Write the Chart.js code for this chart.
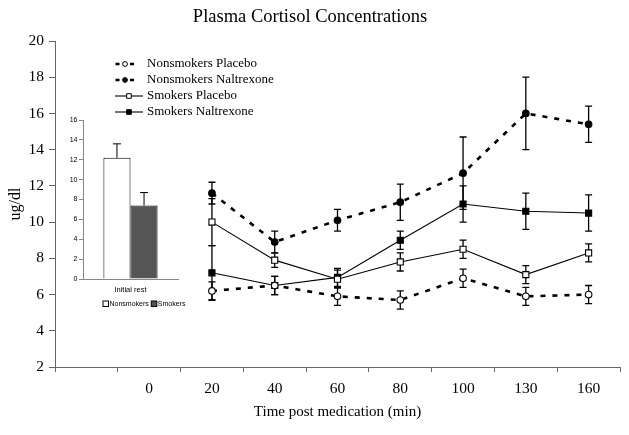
<!DOCTYPE html>
<html>
<head>
<meta charset="utf-8">
<script src="https://cdn.jsdelivr.net/npm/chart.js@4.4.1/dist/chart.umd.min.js"></script>
<style>
  html, body { margin: 0; padding: 0; background: #fff; }
  #wrap { position: relative; width: 629px; height: 435px; }
  #main { position: absolute; left: 0; top: 0; }
  #inset { position: absolute; left: 60px; top: 110px; }
</style>
</head>
<body>
<div id="wrap">
  <canvas id="main" width="629" height="435"></canvas>
  <canvas id="inset" width="130" height="205"></canvas>
</div>
<script>
"use strict";

// time points (first slot is an empty spacer, like in the original figure)
const timeLabels = ['', '0', '20', '40', '60', '80', '100', '130', '160'];

const nonsmokersPlacebo       = [null, null, 6.2, 6.5, 5.9, 5.7, 6.9, 5.9, 6.0];
const nonsmokersPlaceboErr    = [null, null, 0.5, 0.5, 0.5, 0.5, 0.5, 0.5, 0.5];
const nonsmokersNaltrexone    = [null, null, 11.6, 8.9, 10.1, 11.1, 12.7, 16.0, 15.4];
const nonsmokersNaltrexoneErr = [null, null, 0.6, 0.6, 0.6, 1.0, 2.0, 2.0, 1.0];
const smokersPlacebo          = [null, null, 10.0, 7.9, 6.85, 7.8, 8.5, 7.1, 8.3];
const smokersPlaceboErr       = [null, null, 1.3, 0.4, 0.5, 0.5, 0.5, 0.5, 0.5];
const smokersNaltrexone       = [null, null, 7.2, 6.5, 6.95, 9.0, 11.0, 10.6, 10.5];
const smokersNaltrexoneErr    = [null, null, 1.5, 0.5, 0.5, 0.5, 1.0, 1.0, 1.0];

// inset: initial rest
const restLabels = ['Initial rest'];
const restNonsmokers = [12.2];
const restNonsmokersErr = [1.4];
const restSmokers = [7.4];
const restSmokersErr = [1.3];

Chart.defaults.color = '#000';
Chart.defaults.font.family = "'Liberation Serif', 'Times New Roman', serif";

// error bars drawn under the markers
const errorBars = {
  id: 'errorBars',
  beforeDatasetsDraw(chart, args, opts) {
    const ctx = chart.ctx;
    const yScale = chart.scales.y;
    ctx.save();
    ctx.strokeStyle = '#000';
    ctx.lineWidth = opts.lineWidth || 1.3;
    chart.data.datasets.forEach((ds, i) => {
      if (!ds.errors) return;
      const meta = chart.getDatasetMeta(i);
      meta.data.forEach((el, j) => {
        const v = ds.data[j], e = ds.errors[j];
        if (v == null || e == null) return;
        const x = el.x;
        const top = yScale.getPixelForValue(v + e);
        const bot = opts.upOnly ? yScale.getPixelForValue(v) : yScale.getPixelForValue(v - e);
        const c = opts.cap || 3.5;
        ctx.beginPath();
        ctx.moveTo(x, top); ctx.lineTo(x, bot);
        ctx.moveTo(x - c, top); ctx.lineTo(x + c, top);
        if (!opts.upOnly) { ctx.moveTo(x - c, bot); ctx.lineTo(x + c, bot); }
        ctx.stroke();
      });
    });
    ctx.restore();
  }
};

// legend in the upper left, line sample + marker + label
const seriesKey = {
  id: 'seriesKey',
  afterDraw(chart) {
    const ctx = chart.ctx;
    const h = Chart.helpers;
    ctx.save();
    ctx.font = "13px 'Liberation Serif', serif";
    ctx.textBaseline = 'middle';
    ctx.fillStyle = '#000';
    chart.data.datasets.forEach((ds, i) => {
      const y = 64 + i * 16;
      ctx.strokeStyle = '#000';
      ctx.beginPath();
      if (ds.borderDash && ds.borderDash.length) {
        ctx.lineWidth = ds.borderWidth;
        ctx.moveTo(115.5, y); ctx.lineTo(119.5, y);
        ctx.moveTo(130, y); ctx.lineTo(134, y);
      } else {
        ctx.lineWidth = ds.borderWidth;
        ctx.moveTo(115, y); ctx.lineTo(143, y);
      }
      ctx.stroke();
      const cx = ds.pointStyle === 'rect' ? 129 : 125;
      ctx.fillStyle = ds.pointBackgroundColor;
      ctx.strokeStyle = '#000';
      ctx.lineWidth = 1;
      h.drawPoint(ctx, { pointStyle: ds.pointStyle, radius: ds.pointStyle === 'rect' ? 3.3 : 2.4, borderWidth: 1, rotation: 0 }, cx, y);
      ctx.fillStyle = '#000';
      ctx.fillText(ds.label, 147, y);
    });
    ctx.restore();
  }
};

function lineSet(label, data, errors, dashed, style, filled) {
  return {
    label: label,
    data: data,
    errors: errors,
    borderColor: '#000',
    borderWidth: dashed ? 2.6 : 1.1,
    borderDash: dashed ? [5, 7] : [],
    tension: 0,
    pointStyle: style,
    pointRadius: style === 'rect' ? 4.3 : 3.3,
    pointBackgroundColor: filled ? '#000' : '#fff',
    pointBorderColor: '#000',
    pointBorderWidth: 1.1
  };
}

new Chart(document.getElementById('main'), {
  type: 'line',
  data: {
    labels: timeLabels,
    datasets: [
      lineSet('Nonsmokers Placebo', nonsmokersPlacebo, nonsmokersPlaceboErr, true, 'circle', false),
      lineSet('Nonsmokers Naltrexone', nonsmokersNaltrexone, nonsmokersNaltrexoneErr, true, 'circle', true),
      lineSet('Smokers Placebo', smokersPlacebo, smokersPlaceboErr, false, 'rect', false),
      lineSet('Smokers Naltrexone', smokersNaltrexone, smokersNaltrexoneErr, false, 'rect', true)
    ]
  },
  options: {
    responsive: false,
    animation: false,
    devicePixelRatio: 1,
    layout: { padding: { left: 0, right: 9, top: 0, bottom: 0 } },
    plugins: {
      legend: { display: false },
      tooltip: { enabled: false },
      title: {
        display: true,
        text: 'Plasma Cortisol Concentrations',
        color: '#000',
        font: { size: 18.5, weight: 'normal' },
        padding: { top: 6, bottom: 12.8 }
      },
      errorBars: { cap: 3.5, lineWidth: 1.3 }
    },
    scales: {
      x: {
        offset: true,
        grid: { offset: true, drawOnChartArea: false, drawTicks: true, tickLength: 5, color: '#666' },
        border: { color: '#666', width: 1 },
        ticks: { color: '#000', font: { size: 15.5 }, padding: 8, maxRotation: 0, autoSkip: false },
        title: { display: true, text: 'Time post medication (min)', color: '#000', font: { size: 15 }, padding: { top: 0, bottom: 14 } },
        afterFit(s) { s.height = 68; }
      },
      y: {
        min: 2,
        max: 20,
        grid: { drawOnChartArea: false, drawTicks: true, tickLength: 6, color: '#666' },
        border: { color: '#666', width: 1 },
        ticks: { stepSize: 2, color: '#000', font: { size: 15.5 }, padding: 5 },
        title: { display: true, text: 'ug/dl', color: '#000', font: { size: 16 }, padding: { top: 6, bottom: 0 } },
        afterFit(s) { s.width = 55; }
      }
    }
  },
  plugins: [errorBars, seriesKey]
});

// inset legend: small boxes under the bars
const restKey = {
  id: 'restKey',
  afterDraw(chart) {
    const ctx = chart.ctx;
    ctx.save();
    ctx.font = "7px 'Liberation Sans', Arial, sans-serif";
    ctx.textBaseline = 'middle';
    let x = 43;
    const y = 194;
    chart.data.datasets.forEach(ds => {
      ctx.fillStyle = ds.backgroundColor;
      ctx.strokeStyle = '#000';
      ctx.lineWidth = 1;
      ctx.fillRect(x, y - 3, 5.5, 5.5);
      ctx.strokeRect(x, y - 3, 5.5, 5.5);
      ctx.fillStyle = '#000';
      ctx.fillText(ds.label, x + 6.5, y);
      x += 6.5 + ctx.measureText(ds.label).width + 2.5;
    });
    ctx.restore();
  }
};

new Chart(document.getElementById('inset'), {
  type: 'bar',
  data: {
    labels: restLabels,
    datasets: [
      { label: 'Nonsmokers', data: restNonsmokers, errors: restNonsmokersErr, backgroundColor: '#fff', borderColor: '#000', borderWidth: 1 },
      { label: 'Smokers', data: restSmokers, errors: restSmokersErr, backgroundColor: '#555', borderColor: '#000', borderWidth: 1 }
    ]
  },
  options: {
    responsive: false,
    animation: false,
    devicePixelRatio: 1,
    layout: { padding: { left: 0, right: 12, top: 10, bottom: 0 } },
    datasets: { bar: { categoryPercentage: 0.57, barPercentage: 1.0 } },
    plugins: {
      legend: { display: false },
      tooltip: { enabled: false },
      errorBars: { cap: 4, lineWidth: 1, upOnly: true }
    },
    scales: {
      x: {
        grid: { drawOnChartArea: false, drawTicks: false },
        border: { color: '#888', width: 1 },
        ticks: { color: '#000', font: { family: "'Liberation Sans', Arial, sans-serif", size: 7.5 }, padding: 6 },
        afterFit(s) { s.height = 36; }
      },
      y: {
        min: 0,
        max: 16,
        grid: { drawOnChartArea: false, drawTicks: true, tickLength: 4, color: '#888' },
        border: { color: '#888', width: 1 },
        ticks: { stepSize: 2, color: '#000', font: { family: "'Liberation Sans', Arial, sans-serif", size: 7 }, padding: 1.5 },
        afterFit(s) { s.width = 23; }
      }
    }
  },
  plugins: [errorBars, restKey]
});
</script>
</body>
</html>
